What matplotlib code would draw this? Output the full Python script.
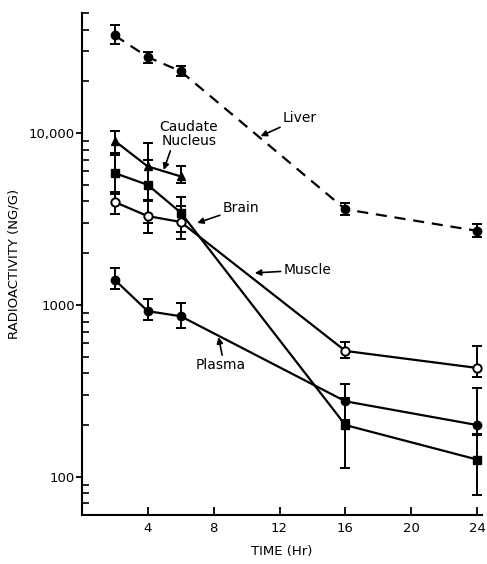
import matplotlib
matplotlib.use("Agg")
import matplotlib.pyplot as plt
from matplotlib.ticker import FixedLocator, FixedFormatter, LogLocator, NullFormatter

# tiempos (horas)
hours = [2, 4, 6, 16, 24]
hours_caudate = [2, 4, 6]

# radioactividad (ng/g) y barras de error (inferior, superior)
liver = [37000, 27700, 22900, 3600, 2700]
liver_lo = [4000, 2200, 1400, 260, 220]
liver_hi = [5500, 2000, 1600, 300, 260]

caudate = [9000, 6400, 5600]
caudate_lo = [1300, 2400, 500]
caudate_hi = [1300, 2400, 800]

brain = [5850, 5000, 3450, 200, 126]
brain_lo = [1450, 2000, 800, 87, 48]
brain_hi = [1600, 2000, 800, 87, 48]

muscle = [3970, 3290, 3040, 540, 430]
muscle_lo = [600, 670, 620, 50, 50]
muscle_hi = [570, 800, 750, 70, 150]

plasma = [1400, 920, 860, 275, 200]
plasma_lo = [160, 105, 130, 60, 23]
plasma_hi = [230, 165, 167, 70, 130]

y_major = [100, 1000, 10000]
y_major_labels = ["100", "1000", "10,000"]
x_ticks = [4, 8, 12, 16, 20, 24]

plt.rcParams['font.family'] = ['DejaVu Sans']
fig = plt.figure(figsize=(4.87, 5.64), dpi=100)
ax = fig.add_axes([0.168, 0.087, 0.822, 0.89])

common = dict(color='black', linewidth=1.6, elinewidth=1.4, capsize=3.5, capthick=1.4, markersize=6)

ax.errorbar(hours, liver, yerr=[liver_lo, liver_hi], fmt='o', linestyle=(0, (5, 3.5)), **common)
ax.errorbar(hours_caudate, caudate, yerr=[caudate_lo, caudate_hi], fmt='^-', **common)
ax.errorbar(hours, brain, yerr=[brain_lo, brain_hi], fmt='s-', **common)
ax.errorbar(hours, muscle, yerr=[muscle_lo, muscle_hi], fmt='o-', markerfacecolor='white',
            markeredgewidth=1.4, **common)
ax.errorbar(hours, plasma, yerr=[plasma_lo, plasma_hi], fmt='o-', **common)

ax.set_yscale('log')
ax.set_xlim(0, 24.3)
ax.set_ylim(60, 50000)

ax.yaxis.set_major_locator(FixedLocator(y_major))
ax.yaxis.set_major_formatter(FixedFormatter(y_major_labels))
ax.yaxis.set_minor_locator(LogLocator(base=10, subs=range(2, 10)))
ax.yaxis.set_minor_formatter(NullFormatter())
ax.set_xticks(x_ticks)
ax.set_xticklabels([str(t) for t in x_ticks])

ax.tick_params(axis='y', which='major', direction='out', length=4, width=1.3, labelsize=9.5, pad=1)
ax.tick_params(axis='y', which='minor', direction='in', length=5, width=1.2)
ax.tick_params(axis='x', which='major', direction='in', length=6, width=1.3, labelsize=9.5, pad=5)

for side in ['top', 'right']:
    ax.spines[side].set_visible(False)
for side in ['left', 'bottom']:
    ax.spines[side].set_linewidth(1.5)

ax.set_xlabel('TIME (Hr)', fontsize=9.5, labelpad=7)
ax.set_ylabel('RADIOACTIVITY (NG/G)', fontsize=9.5, labelpad=6)

arrow = dict(arrowstyle='-|>', color='black', lw=1.2, mutation_scale=9, shrinkA=0, shrinkB=0)
ax.annotate('Liver', xy=(10.85, 9600), xytext=(12.2, 12200), fontsize=10,
            ha='left', va='center', arrowprops=arrow)
ax.annotate('Caudate\nNucleus', xy=(4.97, 6100), xytext=(6.5, 9860), fontsize=10,
            ha='center', va='center', linespacing=1.0,
            arrowprops=dict(arrow, relpos=(0.2, 0.0)))
ax.annotate('Brain', xy=(7.0, 3000), xytext=(8.55, 3660), fontsize=10,
            ha='left', va='center', arrowprops=arrow)
ax.annotate('Muscle', xy=(10.5, 1535), xytext=(12.24, 1600), fontsize=10,
            ha='left', va='center', arrowprops=arrow)
ax.annotate('Plasma', xy=(8.3, 650), xytext=(8.4, 448), fontsize=10,
            ha='center', va='center', arrowprops=dict(arrow, relpos=(0.55, 1.0)))

fig.savefig('out.png', dpi=100)
